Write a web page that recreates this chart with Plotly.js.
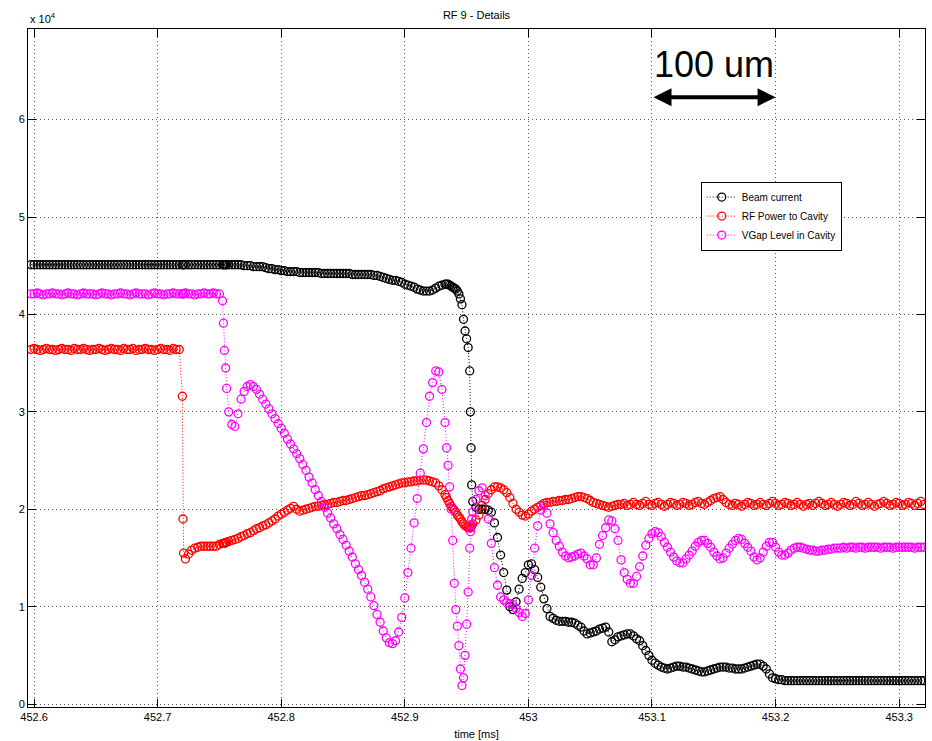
<!DOCTYPE html>
<html>
<head>
<meta charset="utf-8">
<script src="https://cdn.plot.ly/plotly-3.0.1.min.js"></script>
<style>html,body{margin:0;padding:0;background:#fff}#chart{width:932px;height:741px}</style>
</head>
<body>
<div id="chart"></div>
<script>
// time [ms]
const timeMs = [
452.5975,452.6,452.6025,452.605,452.6075,452.61,452.6125,452.615,452.6175,452.62,
452.6225,452.625,452.6275,452.63,452.6325,452.635,452.6375,452.64,452.6425,452.645,
452.6475,452.65,452.6525,452.655,452.6575,452.66,452.6625,452.665,452.6675,452.67,
452.6725,452.675,452.6775,452.68,452.6825,452.685,452.6875,452.69,452.6925,452.695,
452.6975,452.7,452.7025,452.705,452.7075,452.71,452.7125,452.715,452.7175,
452.72,452.7205,452.721,452.7225,452.725,452.7275,452.73,452.7325,452.735,452.7375,
452.74,452.7425,452.745,452.7475,452.75,452.7525,452.7532,452.754,452.755,452.7558,
452.7575,452.76,452.7625,452.765,452.7675,452.77,452.7725,452.775,452.7775,452.78,
452.7825,452.785,452.7875,452.79,452.7925,452.795,452.7975,452.8,452.8025,452.805,
452.8075,452.81,452.8125,452.815,452.8175,452.82,452.8225,452.825,452.8275,452.83,
452.8325,452.835,452.8375,452.84,452.8425,452.845,452.8475,452.85,452.8525,452.855,
452.8575,452.86,452.8625,452.865,452.8675,452.87,452.8725,452.875,452.8775,452.88,
452.8825,452.885,452.8875,452.89,452.8925,452.895,452.8975,452.9,452.9025,452.905,
452.9075,452.91,452.9125,452.915,452.9175,452.92,452.9225,452.925,452.9275,452.93,
452.9325,452.93375,452.935,452.93625,452.9375,452.93875,452.94,452.94125,452.9425,452.94375,
452.945,452.94625,452.9475,452.94875,452.95,452.95125,452.9525,452.9531,452.9536,452.9541,
452.955,452.9575,452.96,452.9625,452.965,452.9675,452.97,452.9725,452.975,452.9775,
452.98,452.9825,452.985,452.9875,452.99,452.9925,452.995,452.9975,453,453.0025,
453.005,453.0075,453.01,453.0125,453.015,453.0175,453.02,453.0225,453.025,453.0275,
453.03,453.0325,453.035,453.0375,453.04,453.0425,453.045,453.0475,453.05,453.0525,
453.055,453.0575,453.06,453.0625,453.065,453.0675,453.07,453.0725,453.075,453.0775,
453.08,453.0825,453.085,453.0875,453.09,453.0925,453.095,453.0975,453.1,453.1025,
453.105,453.1075,453.11,453.1125,453.115,453.1175,453.12,453.1225,453.125,453.1275,
453.13,453.1325,453.135,453.1375,453.14,453.1425,453.145,453.1475,453.15,453.1525,
453.155,453.1575,453.16,453.1625,453.165,453.1675,453.17,453.1725,453.175,453.1775,
453.18,453.1825,453.185,453.1875,453.19,453.1925,453.195,453.1975,453.2,453.2025,
453.205,453.2075,453.21,453.2125,453.215,453.2175,453.22,453.2225,453.225,453.2275,
453.23,453.2325,453.235,453.2375,453.24,453.2425,453.245,453.2475,453.25,453.2525,
453.255,453.2575,453.26,453.2625,453.265,453.2675,453.27,453.2725,453.275,453.2775,
453.28,453.2825,453.285,453.2875,453.29,453.2925,453.295,453.2975,453.3,453.3025,
453.305,453.3075,453.31,453.3125,453.315,453.3175,453.32
];

const beamCurrent = [
45100,45100,45100,45100,45100,45100,45100,45100,45100,45100,
45100,45100,45100,45100,45100,45100,45100,45100,45100,45100,
45100,45100,45100,45100,45100,45100,45100,45100,45100,45100,
45100,45100,45100,45100,45100,45100,45100,45100,45100,45100,
45100,45100,45100,45100,45100,45100,45100,45100,45100,
45100,45100,45100,45100,45100,45100,45100,45100,45100,45100,
45100,45100,45100,45100,45100,45100,45100,45100,45100,45100,
45100,45100,45100,45100,45100,45000,45000,45000,44900,44900,
44900,44900,44800,44700,44700,44600,44600,44500,44500,44400,
44400,44400,44400,44300,44300,44300,44300,44300,44300,44300,
44200,44200,44200,44200,44200,44200,44200,44200,44200,44200,
44100,44100,44100,44100,44100,44100,44100,44000,44000,43900,
43800,43700,43600,43500,43500,43400,43300,43100,43000,42900,
42800,42600,42500,42400,42400,42400,42500,42700,42900,43000,
43100,43100,43100,43000,42900,42800,42700,42600,42400,42100,
41600,41000,39500,38300,37500,36600,34200,30000,26300,22500,
20800,20200,20000,20000,20000,19900,19700,18600,17100,15300,
13500,11700,10000,9700,10500,11800,12900,13500,14300,14400,
13800,13000,12000,10800,9800,9000,8800,8600,8500,8500,
8500,8400,8400,8300,8100,7900,7500,7200,7300,7400,
7500,7700,7800,7900,7400,6400,6600,6900,7000,7100,
7200,7200,7000,6700,6500,6000,5500,5000,4500,4200,
4000,3800,3700,3600,3700,3800,3900,3900,3800,3800,
3700,3600,3500,3400,3300,3300,3400,3500,3600,3700,
3800,3800,3800,3700,3700,3600,3600,3600,3700,3800,
3900,4000,4100,4100,3900,3600,3100,2700,2600,2500,
2500,2400,2400,2400,2400,2400,2400,2400,2400,2400,
2400,2400,2400,2400,2400,2400,2400,2400,2400,2400,
2400,2400,2400,2400,2400,2400,2400,2400,2400,2400,
2400,2400,2400,2400,2400,2400,2400,2400,2400,2400,
2400,2400,2400,2400,2400,2400,2400
];

const rfPowerToCavity = [
36400,36500,36400,36300,36400,36500,36400,36400,36300,36400,
36500,36400,36400,36300,36500,36400,36400,36500,36400,36300,
36400,36400,36500,36400,36300,36400,36500,36400,36400,36300,
36500,36400,36400,36500,36300,36400,36400,36500,36400,36400,
36300,36400,36500,36400,36400,36300,36500,36400,36400,
31600,19000,15500,14900,15400,15800,16000,16100,16200,16200,
16200,16200,16200,16200,16400,16500,16500,16500,16600,16600,
16700,16800,16900,17000,17200,17300,17500,17600,17800,18000,
18100,18300,18400,18600,18800,19000,19300,19500,19700,19900,
20100,20300,20000,19800,19900,20000,20100,20200,20300,20300,
20400,20500,20500,20600,20700,20700,20800,20900,20900,21000,
21100,21200,21300,21400,21400,21500,21600,21700,21800,21900,
22100,22200,22300,22400,22500,22600,22700,22700,22800,22800,
22900,22900,23000,23000,23000,22900,22800,22700,22400,22000,
21500,21200,20900,20600,20300,20100,19900,19700,19400,19200,
19000,18700,18500,18300,18200,18100,18100,18100,18200,18300,
18500,18900,19400,20400,21000,21600,22000,22300,22300,22200,
22000,21700,21200,20600,20000,19700,19400,19300,19500,19800,
20000,20200,20400,20600,20700,20700,20800,20800,20900,20900,
21000,21000,21100,21200,21300,21300,21200,21100,20900,20700,
20600,20500,20400,20300,20200,20300,20400,20500,20500,20600,
20400,20500,20700,20500,20400,20600,20800,20500,20400,20600,
20700,20500,20300,20500,20700,20600,20400,20500,20700,20600,
20400,20500,20700,20800,20600,20500,20700,20900,21100,21200,
21300,21000,20700,20500,20400,20600,20500,20300,20500,20700,
20600,20400,20500,20700,20500,20400,20600,20800,20600,20400,
20500,20700,20600,20400,20500,20700,20500,20300,20500,20600,
20400,20600,20800,20600,20400,20500,20700,20500,20300,20500,
20700,20600,20400,20500,20800,20600,20400,20500,20700,20500,
20300,20500,20600,20800,20600,20400,20500,20700,20600,20400,
20500,20700,20600,20400,20600,20800,20500
];

const vgapLevelInCavity = [
42100,42100,42200,42100,42000,42100,42100,42200,42100,42100,
42000,42100,42200,42100,42100,42000,42100,42200,42100,42100,
42100,42000,42100,42200,42100,42100,42000,42100,42100,42200,
42100,42100,42000,42100,42200,42100,42100,42100,42000,42100,
42200,42100,42100,42000,42100,42100,42200,42100,42100,
42100,42100,42100,42200,42100,42100,42000,42100,42100,42200,
42100,42100,42200,42100,42100,41400,39100,36300,34500,32400,
30000,28700,28500,29800,31300,32100,32600,32800,32600,32300,
31800,31300,30800,30300,29800,29300,28800,28300,27800,27200,
26700,26200,25700,25200,24600,24000,23300,22700,22000,21400,
20800,20200,19600,19100,18500,18000,17400,16900,16300,15700,
15100,14400,13800,13200,12500,11800,11000,10100,9200,8400,
7500,6800,6300,6200,6500,7400,8900,10900,13500,16000,
18600,21100,23700,26200,28900,31600,33000,34200,34100,32300,
28900,26300,24500,22300,20000,16800,12400,9700,8000,6000,
3600,1900,2700,5000,8200,11500,16000,17700,18400,19000,
19700,21000,21900,22200,21400,19000,16500,14000,12200,11000,
10700,10400,10300,10200,9800,9400,9000,9300,10700,13200,
16000,18300,19900,20400,19600,18500,17600,16800,16200,15600,
15200,15000,15100,15200,15400,15500,15200,14900,14300,14300,
15000,16400,17300,18100,18900,18800,18000,16800,14800,13500,
12800,12400,12400,13100,14100,15200,16300,17000,17500,17700,
17600,17200,16600,16100,15600,15100,14700,14500,14500,14900,
15300,15700,16200,16600,16800,16800,16500,16100,15600,15200,
14900,15000,15500,16000,16400,16800,17000,16900,16500,16100,
15700,15100,14800,15000,15600,16200,16600,16600,16100,15600,
15300,15300,15500,15800,16000,16100,16100,16000,15900,15800,
15800,15700,15700,15800,15800,15900,15900,16000,16000,16000,
16100,16000,16100,16100,16000,16100,16100,16000,16100,16100,
16100,16100,16000,16100,16100,16100,16000,16100,16100,16100,
16100,16100,16100,16000,16100,16100,16100
];

const seriesNames = ['Beam current', 'RF Power to Cavity', 'VGap Level in Cavity'];
const seriesColors = ['#000000', '#ff0000', '#ff00ff'];
const xTickVals = [452.6, 452.7, 452.8, 452.9, 453.0, 453.1, 453.2, 453.3];
const xTickText = ['452.6', '452.7', '452.8', '452.9', '453', '453.1', '453.2', '453.3'];
const yTickVals = [0, 10000, 20000, 30000, 40000, 50000, 60000];
const yTickText = ['0', '1', '2', '3', '4', '5', '6'];

const seriesValues = [beamCurrent, rfPowerToCavity, vgapLevelInCavity];
const FONT = 'Liberation Sans, Arial, Helvetica, sans-serif';

const traces = seriesNames.map((name, i) => ({
  type: 'scatter',
  mode: 'lines+markers',
  name: name,
  x: timeMs,
  y: seriesValues[i],
  line: {color: seriesColors[i], width: 1, dash: '1px,2px'},
  marker: {symbol: 'circle-open', size: 8, color: seriesColors[i], line: {width: 1.3, color: seriesColors[i]}}
}));

const axisCommon = {
  ticks: 'inside', ticklen: 8, tickwidth: 1, tickcolor: '#000',
  showline: true, linecolor: '#000', linewidth: 1, mirror: 'ticks',
  showgrid: true, gridcolor: '#555', griddash: '1px,3px', gridwidth: 1,
  zeroline: false, automargin: false,
  tickfont: {family: FONT, size: 11, color: '#000'}
};

const layout = {
  width: 932, height: 741,
  margin: {l: 28, r: 7, t: 29, b: 34, pad: 0},
  paper_bgcolor: '#ffffff', plot_bgcolor: '#ffffff',
  font: {family: FONT, size: 11, color: '#000'},
  title: {text: 'RF 9 - Details', font: {family: FONT, size: 11, color: '#000'},
          x: 0.5, xref: 'paper', xanchor: 'center', y: 1 - 15 / 741, yref: 'container', yanchor: 'middle'},
  showlegend: true,
  legend: {x: 0.75, y: 0.775, xanchor: 'left', yanchor: 'top', bgcolor: '#fff',
           bordercolor: '#000', borderwidth: 1, font: {family: FONT, size: 10, color: '#000'}, tracegroupgap: 0},
  xaxis: Object.assign({}, axisCommon, {
    range: [452.5951, 453.3209], tickmode: 'array', tickvals: xTickVals, ticktext: xTickText,
    title: {text: 'time [ms]', font: {family: FONT, size: 11, color: '#000'}, standoff: 8}
  }),
  yaxis: Object.assign({}, axisCommon, {
    range: [-300, 69300], tickmode: 'array', tickvals: yTickVals, ticktext: yTickText
  }),
  annotations: [
    {xref: 'paper', yref: 'paper', x: 0, y: 1, xanchor: 'left', yanchor: 'bottom', yshift: 2,
     text: 'x 10<sup>4</sup>', showarrow: false, font: {family: FONT, size: 11, color: '#000'}},
    {xref: 'x', yref: 'paper', x: 453.15, y: 0.948, xanchor: 'center', yanchor: 'middle',
     text: '100 um', showarrow: false, font: {family: FONT, size: 36, color: '#000'}},
    {xref: 'x', yref: 'y', x: 453.2, y: 62300, axref: 'x', ayref: 'y', ax: 453.1, ay: 62300,
     text: '', showarrow: true, arrowside: 'end+start', arrowhead: 2, startarrowhead: 2,
     arrowsize: 0.9, startarrowsize: 0.9, arrowwidth: 4, arrowcolor: '#000', standoff: 0, startstandoff: 0}
  ]
};

Plotly.newPlot('chart', traces, layout, {displayModeBar: false, staticPlot: true});
</script>
</body>
</html>
